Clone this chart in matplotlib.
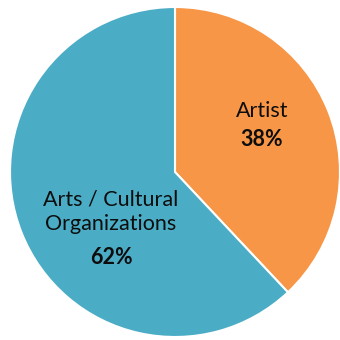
import matplotlib
matplotlib.use("Agg")
import matplotlib.pyplot as plt

labels = ["Artist", "Arts / Cultural\nOrganizations"]
shares = [38, 62]
colors = ["#F79646", "#4BACC6"]

plt.rcParams['font.family'] = ['Lato', 'DejaVu Sans']

fig = plt.figure(figsize=(3.4, 3.4), dpi=100)
# circle centre at (175, 172) px, radius 165 px
R = 165
cx, cy = 175, 172
ax = fig.add_axes([(cx - R) / 340, (340 - cy - R) / 340, 2 * R / 340, 2 * R / 340])
ax.pie(shares, colors=colors, startangle=90, counterclock=False, radius=1,
       wedgeprops=dict(edgecolor="white", linewidth=1.5))
ax.set_xlim(-1, 1)
ax.set_ylim(-1, 1)
ax.set_aspect("equal")
ax.axis("off")

# label anchors (pixels from the image top-left)
name_pos = [(262, 111), (111, 212)]
pct_pos = [(262, 140), (111, 257)]
for lab, val, (nx, ny), (px, py) in zip(labels, shares, name_pos, pct_pos):
    ax.text((nx - cx) / R, (cy - ny) / R, lab, ha="center", va="center",
            fontsize=15.5, color="#0d0d0d", linespacing=1.25)
    ax.text((px - cx) / R, (cy - py) / R, f"{val}%", ha="center", va="center",
            fontsize=15.5, fontweight="bold", color="#0d0d0d")

fig.savefig("out.png", dpi=100)
